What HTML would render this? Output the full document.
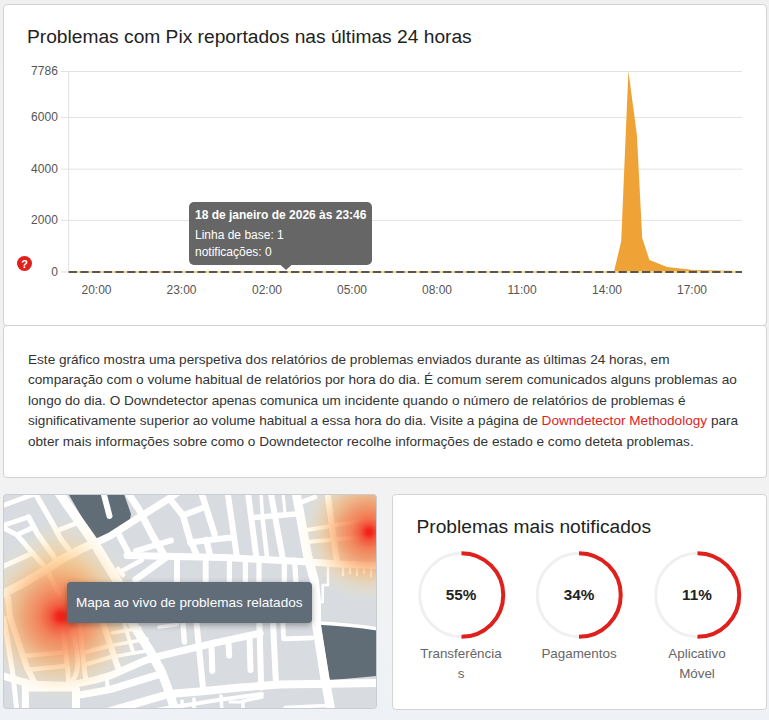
<!DOCTYPE html>
<html><head><meta charset="utf-8">
<style>
*{box-sizing:border-box;margin:0;padding:0}
html,body{width:769px;height:720px;overflow:hidden;background:linear-gradient(#f0f0f0 0px,#f2f2f2 480px,#f1f2f4 600px,#eef2f6 712px);font-family:"Liberation Sans",sans-serif;}
.card{position:absolute;background:#fff;border:1px solid #d3d3d3;border-radius:4px;}
#c1{left:3px;top:4px;width:764px;height:322px;}
#c2{left:3px;top:325px;width:764px;height:153px;}
#map{left:3px;top:494px;width:375px;height:216px;overflow:hidden;background:#d5dade;}
#c4{left:392px;top:494px;width:375px;height:216px;}
.abs{position:absolute;white-space:nowrap}
#t1{left:27px;top:26px;font-size:19.2px;color:#222;line-height:22px}
.yl{position:absolute;right:711.2px;width:40px;text-align:right;font-size:12px;color:#555;line-height:14px}
.xl{position:absolute;top:283px;width:60px;margin-left:-30px;text-align:center;font-size:12px;color:#555;line-height:14px}
#para{position:absolute;left:28px;top:349.8px;width:730px;font-size:13.6px;line-height:20.55px;color:#333;}
#para a{color:#e0231c;text-decoration:none}
#tip{position:absolute;left:189px;top:202px;width:183px;height:62.8px;background:#666;border-radius:5px;color:#fff;font-size:12px;}
#tip div{position:absolute;left:6px;white-space:nowrap;line-height:14px}
#t4{left:416.5px;top:515.5px;font-size:19.2px;color:#222;line-height:22px}
.pct{position:absolute;width:118px;text-align:center;top:585.9px;font-size:15.3px;font-weight:bold;color:#222;line-height:18px}
.lab{position:absolute;width:118px;text-align:center;top:644.4px;font-size:13.4px;color:#666;line-height:19.4px}
#maplabel{position:absolute;left:67px;top:581.5px;width:244.5px;height:41px;background:#606c77;border-radius:4px;color:#fff;font-size:13.6px;line-height:41px;text-align:center;box-shadow:0 2px 6px rgba(0,0,0,.35)}
</style></head><body>
<div class="card" id="c1"></div>
<div class="card" id="c2"></div>
<div class="abs" id="t1">Problemas com Pix reportados nas últimas 24 horas</div>

<svg class="abs" style="left:0;top:0" width="769" height="330" viewBox="0 0 769 330">
 <g stroke="#e2e2e2" stroke-width="1">
  <line x1="61" x2="742" y1="71.5" y2="71.5"/>
  <line x1="61" x2="742" y1="117.4" y2="117.4"/>
  <line x1="61" x2="742" y1="169.2" y2="169.2"/>
  <line x1="61" x2="742" y1="220.4" y2="220.4"/>
  <line x1="61" x2="742" y1="272" y2="272"/>
  <line x1="68.7" x2="68.7" y1="71" y2="272"/>
 </g>
 <path id="peak" d="M68.7,271.6 L614,271.6 L621.2,241.2 L628.4,71 L636.9,135 L642.2,238 L649.4,260 L667.2,266.9 L693.7,270 L742,271 L742,273 L68.7,273 Z" fill="#efa236"/>
 <line x1="68.7" x2="742" y1="272" y2="272" stroke="#f6d68c" stroke-width="2"/>
 <line x1="68.7" x2="742" y1="272" y2="272" stroke="#595650" stroke-width="2.1" stroke-dasharray="8.2 3.5"/>
 <circle cx="24.5" cy="263.5" r="7.5" fill="#e0201c"/>
 <text x="24.5" y="267.5" font-size="11" font-weight="bold" fill="#fff" text-anchor="middle" font-family="Liberation Sans">?</text>
</svg>

<div class="yl" style="top:64px">7786</div>
<div class="yl" style="top:110px">6000</div>
<div class="yl" style="top:162px">4000</div>
<div class="yl" style="top:213px">2000</div>
<div class="yl" style="top:265.3px">0</div>

<div class="xl" style="left:96.5px">20:00</div>
<div class="xl" style="left:181.5px">23:00</div>
<div class="xl" style="left:267px">02:00</div>
<div class="xl" style="left:352px">05:00</div>
<div class="xl" style="left:437px">08:00</div>
<div class="xl" style="left:522px">11:00</div>
<div class="xl" style="left:607px">14:00</div>
<div class="xl" style="left:692px">17:00</div>

<div id="tip">
 <div style="top:5.6px;font-weight:bold">18 de janeiro de 2026 às 23:46</div>
 <div style="top:26.1px">Linha de base: 1</div>
 <div style="top:43.1px">notificações: 0</div>
</div>
<svg class="abs" style="left:279.5px;top:264.5px" width="12" height="6"><path d="M0.5,0 L6,5 L11.5,0 Z" fill="#666"/></svg>

<div id="para">Este gráfico mostra uma perspetiva dos relatórios de problemas enviados durante as últimas 24 horas, em<br>comparação com o volume habitual de relatórios por hora do dia. É comum serem comunicados alguns problemas ao<br>longo do dia. O Downdetector apenas comunica um incidente quando o número de relatórios de problemas é<br>significativamente superior ao volume habitual a essa hora do dia. Visite a página de <a>Downdetector Methodology</a> para<br>obter mais informações sobre como o Downdetector recolhe informações de estado e como deteta problemas.</div>

<svg class="abs" style="left:0;top:0" width="769" height="720" viewBox="0 0 769 720">
 <defs>
  <clipPath id="mc"><rect x="3.5" y="494.5" width="373" height="214" rx="3"/></clipPath>
  
  <radialGradient id="h3" cx="64" cy="562" r="46" gradientUnits="userSpaceOnUse">
   <stop offset="0" stop-color="rgb(250,190,110)" stop-opacity=".34"/>
   <stop offset="0.5" stop-color="rgb(253,205,130)" stop-opacity=".24"/>
   <stop offset="1" stop-color="rgb(255,225,160)" stop-opacity="0"/>
  </radialGradient>
  <radialGradient id="h1" cx="60.5" cy="616.5" r="87" gradientUnits="userSpaceOnUse">
   <stop offset="0" stop-color="rgb(242,32,26)" stop-opacity="1"/>
   <stop offset="0.04" stop-color="rgb(242,38,29)" stop-opacity="1"/>
   <stop offset="0.12" stop-color="rgb(243,82,54)" stop-opacity=".96"/>
   <stop offset="0.24" stop-color="rgb(245,116,70)" stop-opacity=".88"/>
   <stop offset="0.42" stop-color="rgb(247,145,84)" stop-opacity=".74"/>
   <stop offset="0.55" stop-color="rgb(250,170,95)" stop-opacity=".58"/>
   <stop offset="0.66" stop-color="rgb(253,190,110)" stop-opacity=".42"/>
   <stop offset="0.75" stop-color="rgb(255,205,130)" stop-opacity=".28"/>
   <stop offset="0.88" stop-color="rgb(255,225,160)" stop-opacity=".1"/>
   <stop offset="1" stop-color="rgb(255,235,180)" stop-opacity="0"/>
  </radialGradient>
  <radialGradient id="h2" cx="369" cy="532" r="72" gradientUnits="userSpaceOnUse">
   <stop offset="0" stop-color="rgb(242,32,26)" stop-opacity="1"/>
   <stop offset="0.04" stop-color="rgb(242,38,29)" stop-opacity="1"/>
   <stop offset="0.12" stop-color="rgb(243,82,54)" stop-opacity=".96"/>
   <stop offset="0.24" stop-color="rgb(245,116,70)" stop-opacity=".88"/>
   <stop offset="0.42" stop-color="rgb(247,145,84)" stop-opacity=".74"/>
   <stop offset="0.55" stop-color="rgb(250,170,95)" stop-opacity=".58"/>
   <stop offset="0.66" stop-color="rgb(253,190,110)" stop-opacity=".42"/>
   <stop offset="0.75" stop-color="rgb(255,205,130)" stop-opacity=".28"/>
   <stop offset="0.88" stop-color="rgb(255,225,160)" stop-opacity=".1"/>
   <stop offset="1" stop-color="rgb(255,235,180)" stop-opacity="0"/>
  </radialGradient>
 </defs>
 <g clip-path="url(#mc)">
  <rect x="3" y="494" width="375" height="216" fill="#d8dce0"/>
  <!-- dark blocks -->
  <path d="M68.5,494 L124,494 L131,514 L130,520 L96,542 Z" fill="#606d76"/>
  <path d="M320.5,624 Q350,625 377,630 L377,676 L329.8,680.3 Z" fill="#606d76"/>
  <g id="roads" stroke="#fff" fill="none" stroke-linecap="round" stroke-linejoin="round">
   <!-- tile A -->
   <path d="M3,505.5 L33,494.5" stroke-width="4.8"/>
   <path d="M35,493 L52,522.5 L61,539.4 L71.5,553" stroke-width="5.4"/>
   <path d="M58.5,492 L93.6,542 L118,582" stroke-width="9.5"/>
   <path d="M58.5,530.3 L78,522.5" stroke-width="4.8"/>
   <path d="M3,525.5 L28.6,517" stroke-width="4.8"/>
   <path d="M28.6,517 L37.7,534.2 L57,561" stroke-width="5.4"/>
   <path d="M3,527.7 L16.9,534.9 L32.3,552.7 L46.8,569.3 L58.3,593" stroke-width="5"/>
   <path d="M16.9,534.9 L32.5,527.7" stroke-width="4.8"/>
   <path d="M3,566.5 L33,553" stroke-width="5"/><path d="M95,543 L110,536 L131,522.5 L170,498 L177,493" stroke-width="7"/>
   <path d="M3,594 L26,581.8 L46.8,569.3 L62.4,559 L80,549.6 L95,543" stroke-width="8.2"/>
   <path d="M103.8,494 L109.5,516" stroke-width="6.0"/>
   <!-- tile B -->
   <path d="M128,493 L138.5,508.6 L152.5,535.6 L164.6,556" stroke-width="7.0"/>
   <path d="M169.4,498.5 L183,515.4 L189.7,539 L196.4,554.2" stroke-width="6.5"/>
   <path d="M201.5,493 L214.5,534 M206.5,540 L210,556" stroke-width="6.4"/>
   <path d="M183,515.4 L205,507" stroke-width="6.0"/>
   <path d="M127,555.5 L225,557.6 L300,561.5 L340,564 L378,565.5" stroke-width="7.0"/>
   <path d="M136,551 L171,540.5" stroke-width="6.0"/>
   <path d="M118.5,534 L129.5,555" stroke-width="6.0"/>
   <path d="M166,557.6 L135.6,579.6" stroke-width="6.5"/>
   <path d="M177,557.6 L177,582" stroke-width="5.8"/>
   <path d="M205.7,557.6 L205.7,582" stroke-width="5.8"/>
   <path d="M142,560 L120,572 M118,569 L123,575" stroke-width="4.5"/>
   <!-- tile C -->
   <path d="M227.7,493 L237,557.6" stroke-width="6.0"/>
   <path d="M248,493 L256.4,557.6" stroke-width="6.0"/>
   <path d="M270.8,493 L282.6,557.6" stroke-width="6.0"/>
   <path d="M296,492 L302,525 L307.5,555 L314.5,581 L316.5,602 L316.5,625 L325.1,679.7 L330.8,710" stroke-width="9.0"/>
   <path d="M261,493 L262.5,516" stroke-width="3.5"/><path d="M283,493 L285,513.5" stroke-width="3"/><path d="M262.5,518 L267,557" stroke-width="4.5"/>
   <path d="M190,542.5 L213,539.5 L234,537.3" stroke-width="6.0"/>
   <path d="M254,517.5 L296,514" stroke-width="5.6"/>
   <path d="M306,530.3 L378,518" stroke-width="4.2"/>
   <path d="M307.3,542 L378,535.5" stroke-width="4.2"/>
   <path d="M300.8,502.4 L315,497" stroke-width="4.8"/>
   <path d="M327.5,493 L336.8,561" stroke-width="6.0"/>
   <path d="M229.4,560 L229.4,582 M245.4,560 L245.4,582 M259,560 L259,582 M284.3,560 L284.3,582 M294.5,560 L296,582" stroke-width="5.2"/>
   <path d="M318,563 L328,563 L328,585 L322.7,585 L322.7,602 L318,602" stroke-width="2.5"/>
   <path d="M343,566 L343,575 M350,566 L350,573 M357,566 L357,575 M364,566 L364,573 M371,566 L371,576" stroke-width="2.5"/>
   <!-- tile D -->
   <path d="M8,598 L10.1,617 L27,667.6 L35.5,684.5" stroke-width="6.0"/>
   <path d="M62.5,628.7 L67.6,667.6 L68.5,684" stroke-width="4.8"/>
   <path d="M72.7,630.4 C80,660 80,675 69.3,683.7" stroke-width="4.8"/>
   <path d="M79.5,622 L84.5,671 L86,680" stroke-width="4.8"/>
   <path d="M103,623 L116.7,664.2 L120,672" stroke-width="6.0"/>
   <path d="M84.5,652.4 L110,645.6 M86.2,664.2 L115,655.8" stroke-width="4.2"/>
   <path d="M26,655.8 L61,652.5 M30.5,669.5 L65,666" stroke-width="4.5"/><path d="M4,618 L13,675 L17,712" stroke-width="5"/>
   <path d="M3,676 L30,684 L68,685.5 L95,680 L112,675 L130,667 L145,660.5 L160,656 L178.5,651.5 L213.6,643.3 L260,633.3" stroke-width="7.2"/>
   <path d="M81,694.7 L110,689.5 L160.7,674" stroke-width="7.2"/>
   <path d="M90,722 L110,711 L169,694 L200,691.5 L240,687.5 L280,684.5 L378,683" stroke-width="7.8"/>
   <path d="M130,620 L138.5,633 L150,651 L161.5,672 L169.5,693 L176,714" stroke-width="9.0"/>
   <path d="M25.4,682 L25.4,712" stroke-width="7.2"/>
   <path d="M76,690 L76,714" stroke-width="8"/>
   <path d="M30,689 L76,689" stroke-width="5"/>
   <path d="M112,633 L140,628 M114,645 L147,639 M117,656 L152,650" stroke-width="3.5"/>
   <path d="M124,623 L133,652" stroke-width="4"/>
   <path d="M156,710 L218,700 L262,694" stroke-width="4"/>
   <path d="M182,701 L182,712 M194,699 L194,712 M221,696 L222,712" stroke-width="3.5"/>
   <path d="M243,710 L243,701 L262,697" stroke-width="3.5"/>
   <path d="M230,702 L244,702" stroke-width="3"/>
   <path d="M285,707.5 L326,705.5" stroke-width="3.5"/>
   <path d="M106.5,676 L108,690" stroke-width="4"/>
   <!-- tile E -->
   <path d="M182.7,620 L184.4,642" stroke-width="5.4"/>
   <path d="M196.2,620 L203,687.8" stroke-width="6.0"/>
   <path d="M211.4,643.8 L212.3,670.9" stroke-width="6.0"/>
   <path d="M228.3,640.4 L229.2,655.6" stroke-width="6.0"/>
   <path d="M159,627 L177.6,624.4" stroke-width="3.5"/>
   <!-- tile F -->
   <path d="M259.3,620 L261.2,687.5" stroke-width="6.0"/>
   <path d="M272.9,620 L275.8,679.7" stroke-width="6.0"/>
   <path d="M282.7,620 L283.6,638.8 L312,637.8" stroke-width="4.8"/>
   <path d="M249.5,636.8 L250.5,670" stroke-width="6.0"/>
   <path d="M319,623 Q350,624.5 378,629" stroke-width="3.5"/>
  </g>
  <rect x="3" y="494" width="375" height="216" fill="url(#h3)"/>
  <rect x="3" y="494" width="375" height="216" fill="url(#h1)"/>
  <rect x="3" y="494" width="375" height="216" fill="url(#h2)"/>
 </g>
 <rect x="3.5" y="494.5" width="373" height="214" rx="3" fill="none" stroke="#c9cdd0"/>
</svg>

<div id="maplabel">Mapa ao vivo de problemas relatados</div>

<div class="card" id="c4"></div>
<div class="abs" id="t4">Problemas mais notificados</div>
<svg class="abs" style="left:392px;top:540px" width="375" height="110" viewBox="392 540 375 110">
 <g fill="none" stroke-width="3" stroke="#f0f0f0">
  <circle cx="461.5" cy="595" r="41.8"/><circle cx="579" cy="595" r="41.8"/><circle cx="697.5" cy="595" r="41.8"/>
 </g>
 <g fill="none" stroke-width="4" stroke="#e0201c">
  <path d="M461.5,553.2 A41.8,41.8 0 0 1 461.5,636.8"/>
  <path d="M579,553.2 A41.8,41.8 0 0 1 579,636.8"/>
  <path d="M697.5,553.2 A41.8,41.8 0 0 1 697.5,636.8"/>
 </g>
</svg>
<div class="pct" style="left:402px">55%</div>
<div class="pct" style="left:520px">34%</div>
<div class="pct" style="left:638px">11%</div>
<div class="lab" style="left:402px">Transferência<br>s</div>
<div class="lab" style="left:520px">Pagamentos</div>
<div class="lab" style="left:638px">Aplicativo<br>Móvel</div>
</body></html>
